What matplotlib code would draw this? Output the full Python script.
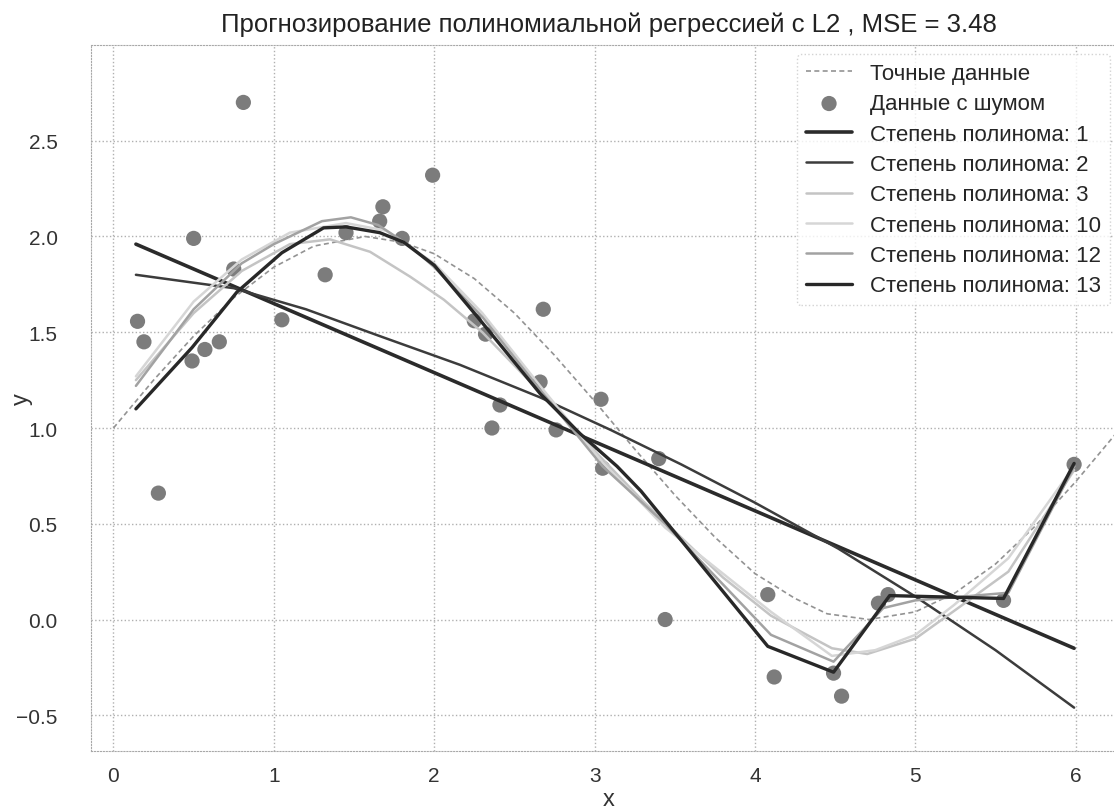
import numpy as np
import matplotlib
matplotlib.use("Agg")
import matplotlib.pyplot as plt
import seaborn as sns

sns.set_style("whitegrid")
plt.rcParams['font.family'] = ['Liberation Sans', 'DejaVu Sans']

# noisy data points
x_noisy = [0.15, 0.19, 0.28, 0.49, 0.50, 0.57, 0.66, 0.75, 0.81, 1.05, 1.32, 1.45,
           1.66, 1.68, 1.80, 1.99, 2.25, 2.32, 2.36, 2.41, 2.66, 2.68, 2.76, 3.04,
           3.05, 3.40, 3.44, 4.08, 4.12, 4.49, 4.54, 4.77, 4.83, 5.55, 5.99]
y_noisy = [1.557, 1.45, 0.66, 1.35, 1.99, 1.41, 1.45, 1.83, 2.70, 1.565, 1.80, 2.02,
           2.08, 2.155, 1.99, 2.32, 1.56, 1.49, 1.00, 1.12, 1.24, 1.62, 0.99, 1.15,
           0.79, 0.84, 0.00, 0.13, -0.30, -0.28, -0.40, 0.085, 0.13, 0.10, 0.81]

# exact data (dashed curve)
x_true = [0.0, 0.25, 0.5, 0.75, 1.0, 1.25, 1.57, 1.8, 2.0, 2.25, 2.5, 2.75, 3.0, 3.25,
          3.5, 3.75, 4.0, 4.25, 4.45, 4.71, 5.0, 5.25, 5.5, 5.75, 6.0, 6.15, 6.28]
y_true = [1.0, 1.25, 1.48, 1.68, 1.84, 1.95, 2.0, 1.97, 1.91, 1.78, 1.60, 1.38, 1.14, 0.89,
          0.65, 0.43, 0.24, 0.11, 0.03, 0.0, 0.04, 0.14, 0.29, 0.49, 0.72, 0.87, 1.0]

# fitted curves
deg1_x = [0.14, 5.99]
deg1_y = [1.96, -0.15]

deg2_x = [0.14, 0.75, 1.2, 1.66, 2.16, 2.66, 3.1, 3.54, 4.0, 4.52, 5.0, 5.5, 5.99]
deg2_y = [1.80, 1.73, 1.62, 1.48, 1.33, 1.16, 0.99, 0.81, 0.61, 0.37, 0.12, -0.16, -0.46]

deg3_x = [0.14, 0.5, 0.8, 1.1, 1.35, 1.6, 1.85, 2.06, 2.3, 2.6, 3.0, 3.3, 3.8, 4.1,
          4.48, 4.7, 5.0, 5.25, 5.58, 5.99]
deg3_y = [1.25, 1.60, 1.82, 1.96, 1.985, 1.92, 1.79, 1.67, 1.50, 1.24, 0.88, 0.62, 0.22,
          0.02, -0.15, -0.18, -0.10, 0.05, 0.25, 0.78]

deg10_x = [0.14, 0.5, 0.8, 1.1, 1.45, 1.7, 2.0, 2.3, 2.66, 3.05, 3.44, 3.8, 4.1, 4.48,
           4.75, 5.0, 5.24, 5.58, 5.99]
deg10_y = [1.27, 1.66, 1.88, 2.02, 2.07, 2.03, 1.86, 1.60, 1.22, 0.82, 0.48, 0.24, 0.04,
           -0.19, -0.16, -0.08, 0.075, 0.32, 0.80]

deg12_x = [0.14, 0.5, 0.8, 1.0, 1.3, 1.48, 1.65, 1.85, 2.0, 2.3, 2.66, 3.05, 3.44, 4.1,
           4.49, 4.8, 5.0, 5.3, 5.58, 5.99]
deg12_y = [1.22, 1.62, 1.86, 1.96, 2.08, 2.10, 2.06, 1.95, 1.84, 1.58, 1.20, 0.80, 0.50,
           -0.08, -0.22, 0.06, 0.10, 0.12, 0.14, 0.80]

deg13_x = [0.14, 0.49, 0.77, 1.05, 1.31, 1.45, 1.66, 1.81, 2.0, 2.27, 2.66, 2.91, 3.14,
           3.29, 4.08, 4.49, 4.84, 5.55, 5.99]
deg13_y = [1.10, 1.42, 1.71, 1.915, 2.045, 2.05, 2.02, 1.97, 1.85, 1.58, 1.18, 0.97, 0.80,
           0.67, -0.14, -0.275, 0.125, 0.11, 0.815]

degrees = [1, 2, 3, 10, 12, 13]
fits_x = [deg1_x, deg2_x, deg3_x, deg10_x, deg12_x, deg13_x]
fits_y = [deg1_y, deg2_y, deg3_y, deg10_y, deg12_y, deg13_y]
colors = ['#2b2b2b', '#3c3c3c', '#c4c4c4', '#d6d6d6', '#a2a2a2', '#282828']
widths = [2.6, 1.8, 1.8, 1.8, 1.8, 2.4]

fig = plt.figure(figsize=(11.14, 8.12), dpi=100)
ax = fig.add_axes([0.0817, 0.074, 0.93, 0.8694])

ax.plot(x_true, y_true, linestyle=(0, (3, 2)), color='#939393', lw=1.2,
        label='Точные данные')
ax.scatter(x_noisy, y_noisy, s=120, color='#7c7c7c', edgecolors='none',
           label='Данные с шумом', zorder=3)
for d, fx, fy, c, w in zip(degrees, fits_x, fits_y, colors, widths):
    ax.plot(fx, fy, color=c, lw=w, label=f'Степень полинома: {d}', zorder=4)

ax.set_xlim(-0.14, 6.32)
ax.set_ylim(-0.686, 3.0)
ax.set_yticks([-0.5, 0.0, 0.5, 1.0, 1.5, 2.0, 2.5])
ax.set_xticks([0, 1, 2, 3, 4, 5, 6])
ax.grid(True, linestyle=':', color='#b0b0b0', lw=1.0)
for s in ax.spines.values():
    s.set_linestyle(':')
    s.set_color('#a8a8a8')
ax.tick_params(labelsize=15, colors='#333333', length=0)
ax.tick_params(axis='y', pad=24)
ax.tick_params(axis='x', pad=11)

ax.set_title('Прогнозирование полиномиальной регрессией с L2 , MSE = 3.48',
             fontsize=18.5, color='#222222', pad=10)
ax.set_xlabel('x', fontsize=17, color='#333333', labelpad=2)
ax.set_ylabel('y', fontsize=17, color='#333333')
ax.yaxis.set_label_coords(-0.056, 0.5)

leg = ax.legend(loc='upper right', bbox_to_anchor=(0.9836, 0.987), borderaxespad=0,
                fontsize=16, frameon=True, labelspacing=0.42, handlelength=2.1,
                handletextpad=0.8)
leg.get_frame().set_edgecolor('#c8c8c8')
leg.get_frame().set_linestyle(':')

fig.savefig('out.png', dpi=100)
